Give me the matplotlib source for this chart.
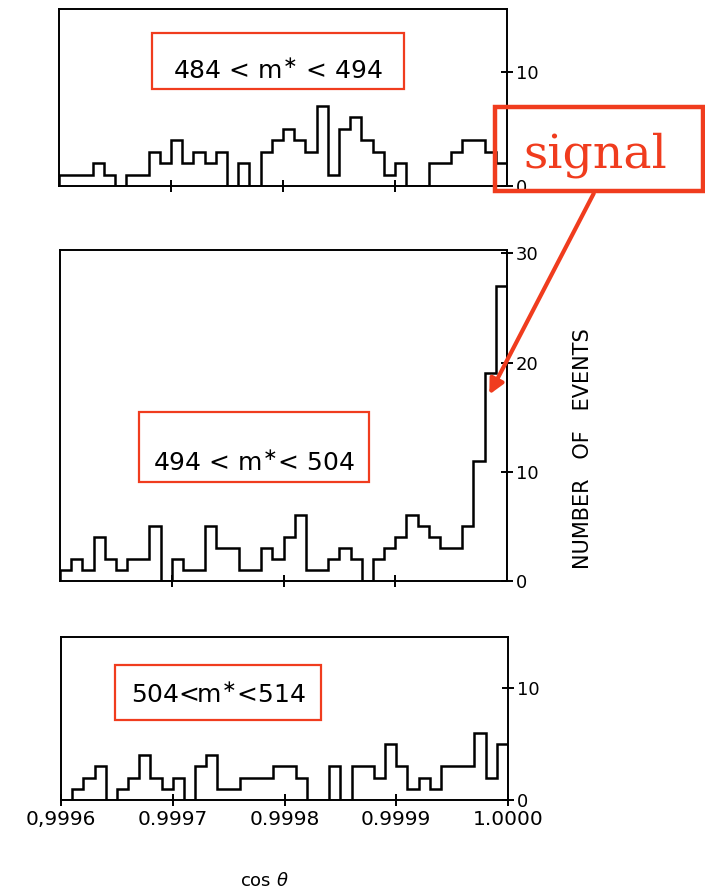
import matplotlib.pyplot as plt
import numpy as np
from matplotlib.patches import Rectangle, FancyArrowPatch

W, H = 705, 891

# 40 bins of 0.00001 between 0.9996 and 1.0000
edges = np.linspace(0.9996, 1.0, 41)

counts_low = [1, 1, 1, 2, 1, 0, 1, 1, 3, 2, 4, 2, 3, 2, 3, 0, 2, 0, 3, 4,
              5, 4, 3, 7, 1, 5, 6, 4, 3, 1, 2, 0, 0, 2, 2, 3, 4, 4, 3, 2]
counts_mid = [1, 2, 1, 4, 2, 1, 2, 2, 5, 0, 2, 1, 1, 5, 3, 3, 1, 1, 3, 2,
              4, 6, 1, 1, 2, 3, 2, 0, 2, 3, 4, 6, 5, 4, 3, 3, 5, 11, 19, 27]
counts_high = [0, 1, 2, 3, 0, 1, 2, 4, 2, 1, 2, 0, 3, 4, 1, 1, 2, 2, 2, 3,
               3, 2, 0, 0, 3, 0, 3, 3, 2, 5, 3, 1, 2, 1, 3, 3, 3, 6, 2, 5]

mass_labels = ['484 < m$^{\\ast}$ < 494', '494 < m$^{\\ast}$< 504', '504<m$^{\\ast}$<514']
y_ticks_small = [0, 10]
y_ticks_mid = [0, 10, 20, 30]
x_ticks = [0.9996, 0.9997, 0.9998, 0.9999, 1.0]
x_ticklabels = ['0,9996', '0.9997', '0.9998', '0.9999', '1.0000']

RED = '#f03c1e'


def px_rect(x0, y0, x1, y1):
    # pixel box (top-left origin) -> figure fraction [l, b, w, h]
    return [x0 / W, 1 - y1 / H, (x1 - x0) / W, (y1 - y0) / H]


def fx(x):
    return x / W


def fy(y):
    return 1 - y / H


fig = plt.figure(figsize=(W / 100, H / 100), dpi=100)

panels = [
    (px_rect(59, 9, 507, 186), counts_low, 15.5, y_ticks_small),
    (px_rect(60, 250, 507, 581), counts_mid, 30.3, y_ticks_mid),
    (px_rect(61, 637, 508, 800), counts_high, 14.55, y_ticks_small),
]

axes = []
for rect, counts, ytop, yt in panels:
    ax = fig.add_axes(rect)
    ax.stairs(counts, edges, color='black', lw=1.8)
    ax.set_xlim(0.9996, 1.0)
    ax.set_ylim(0, ytop)
    for s in ax.spines.values():
        s.set_linewidth(1.4)
    ax.yaxis.tick_right()
    ax.set_yticks(yt)
    ax.tick_params(axis='y', direction='inout', length=9, width=1.4,
                   labelsize=13, pad=2)
    ax.tick_params(axis='x', direction='inout', length=8, width=1.4)
    axes.append(ax)

for ax in axes[:2]:
    ax.set_xticks(x_ticks[1:-1])
    ax.set_xticklabels([])

axes[2].set_xticks(x_ticks)
axes[2].set_xticklabels(x_ticklabels, fontsize=14.5)

# mass window labels in red boxes
boxes = [(152, 33, 404, 89), (139, 412, 369, 482), (115, 665, 321, 720)]
text_pos = [(278, 70), (254, 462), (219, 695)]
for (x0, y0, x1, y1), (tx, ty), lab in zip(boxes, text_pos, mass_labels):
    fig.add_artist(Rectangle((fx(x0), fy(y1)), (x1 - x0) / W, (y1 - y0) / H,
                             transform=fig.transFigure, fill=False,
                             edgecolor=RED, lw=1.6))
    fig.text(fx(tx), fy(ty), lab, fontsize=18, ha='center', va='center')

# signal annotation
fig.add_artist(Rectangle((fx(495), fy(191)), 208 / W, 84 / H,
                         transform=fig.transFigure, fill=False,
                         edgecolor=RED, lw=3.2))
fig.text(fx(595), fy(167), 'signal', fontsize=34, color=RED,
         family='DejaVu Serif', ha='center', va='baseline')
fig.add_artist(FancyArrowPatch((fx(595), fy(191)), (fx(488), fy(397)),
                               transform=fig.transFigure, arrowstyle='-|>',
                               mutation_scale=22, color=RED, lw=3))

fig.text(fx(583), fy(449), 'NUMBER   OF   EVENTS', rotation=90,
         fontsize=15, ha='center', va='center')
fig.text(fx(264), fy(881), r'cos $\theta$', fontsize=13,
         ha='center', va='center')

fig.savefig('out.png', dpi=100)
